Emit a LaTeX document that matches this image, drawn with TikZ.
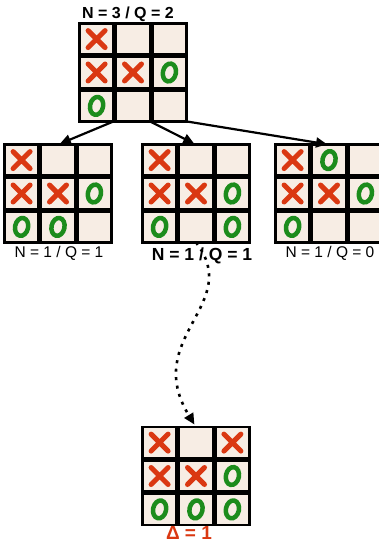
\documentclass[tikz,border=0pt]{standalone}
\usepackage{fontspec}
\setmainfont{Liberation Sans}
\usetikzlibrary{arrows.meta,matrix}
\definecolor{paper}{RGB}{247,237,228}
\definecolor{xred}{RGB}{218,56,18}
\definecolor{ogreen}{RGB}{28,140,28}

\begin{document}
\begin{tikzpicture}[
  x=1pt, y=-1pt,
  cell/.style={draw, line width=2.4pt, fill=paper, minimum width=34pt, minimum height=31pt, inner sep=0pt, outer sep=0pt},
  board/.style={matrix of nodes, nodes in empty cells, column sep=0pt, row sep=0pt, nodes={cell}},
  xm/.style={path picture={
    \draw[xred, line width=5pt, line cap=round]
      ([shift={(-8.5pt,8.5pt)}]path picture bounding box.center) -- ([shift={(8.5pt,-8.5pt)}]path picture bounding box.center)
      ([shift={(-8.5pt,-8.5pt)}]path picture bounding box.center) -- ([shift={(8.5pt,8.5pt)}]path picture bounding box.center);}},
  om/.style={path picture={
    \draw[ogreen, line width=4.5pt]
      (path picture bounding box.center) ellipse [x radius=6.5pt, y radius=9pt, rotate=-12];}},
  lbl/.style={anchor=base, font=\fontsize{15.5}{18}\selectfont},
  arrow/.style={-{Triangle[length=11pt,width=10pt]}, line width=2.2pt, shorten >=2pt},
  dotarrow/.style={-{Triangle[length=11pt,width=10pt]}, line width=2.6pt, dash pattern=on 3pt off 5.5pt, shorten >=3pt}
]
  \useasboundingbox (0,0) rectangle (379,545);

  % Boards
  \matrix (top) [board] at (133,72.5) {
    |[xm]| & & \\
    |[xm]| & |[xm]| & |[om]| \\
    |[om]| & & \\
  };
  \matrix (left) [board] at (58,193.5) {
    |[xm]| & & \\
    |[xm]| & |[xm]| & |[om]| \\
    |[om]| & |[om]| & \\
  };
  \matrix (middle) [board] at (196,193.5) {
    |[xm]| & & \\
    |[xm]| & |[xm]| & |[om]| \\
    |[om]| & & |[om]| \\
  };
  \matrix (right) [board] at (329,193.5) {
    |[xm]| & |[om]| & \\
    |[xm]| & |[xm]| & |[om]| \\
    |[om]| & & \\
  };
  \matrix (bottom) [board] at (196,476) {
    |[xm]| & & |[xm]| \\
    |[xm]| & |[xm]| & |[om]| \\
    |[om]| & |[om]| & |[om]| \\
  };

  % Labels
  \node[lbl, font=\bfseries\fontsize{16}{19}\selectfont] (toplbl) at (128,19) {N = 3 / Q = 2};
  \node[lbl] (leftlbl) at (59,257) {N = 1 / Q = 1};
  \node[lbl, font=\bfseries\fontsize{17.5}{20}\selectfont] (midlbl) at (202,260) {N = 1 / Q = 1};
  \node[lbl] (rightlbl) at (330,257) {N = 1 / Q = 0};
  \node[lbl, text=xred, font=\bfseries\fontsize{19}{22}\selectfont] (deltalbl) at (189,539) {Δ = 1};

  % Arrows
  \draw[arrow] (top-3-1.south east) -- (left-1-2.north);
  \draw[arrow] (top-3-2.south east) -- (middle-1-2.north);
  \draw[arrow] (top-3-3.south east) -- (right-1-2.north);
  \draw[dotarrow] (middle-3-2.south) .. controls +(48,62) and +(-55,-90) .. (bottom-1-2.north);
\end{tikzpicture}
\end{document}
